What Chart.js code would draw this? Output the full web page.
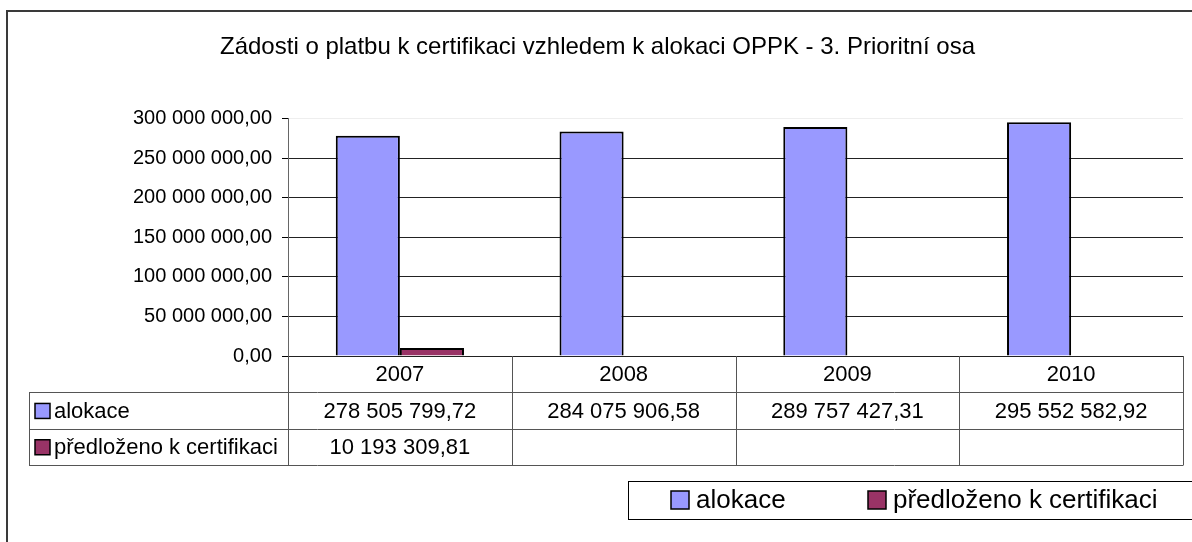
<!DOCTYPE html>
<html>
<head>
<meta charset="utf-8">
<script src="https://cdn.jsdelivr.net/npm/chart.js@4.4.0/dist/chart.umd.min.js"></script>
<style>
  body { margin: 0; background: #fff; }
  #wrap { position: relative; width: 1192px; height: 542px; }
</style>
</head>
<body>
<div id="wrap"><canvas id="myChart"></canvas></div>
<script>
const years = ["2007", "2008", "2009", "2010"];
const alokace = [278505799.72, 284075906.58, 289757427.31, 295552582.92];
const predlozeno = [10193309.81, null, null, null];
const seriesNames = ["alokace", "předloženo k certifikaci"];
const seriesColors = ["#9999FF", "#993366"];
const yTicks = [0, 50000000, 100000000, 150000000, 200000000, 250000000, 300000000];
const chartTitle = "Zádosti o platbu k certifikaci vzhledem k alokaci OPPK - 3. Prioritní osa";

const FONT = "'Liberation Sans', Arial, sans-serif";

// 278505799.72 -> "278 505 799,72"
function czNum(v) {
  const parts = v.toFixed(2).split(".");
  return parts[0].replace(/\B(?=(\d{3})+(?!\d))/g, " ") + "," + parts[1];
}

//----------------frame, data table, legend-------------------

const framePlugin = {
  id: "frame",
  beforeDraw(chart) {
    const c = chart.ctx;
    c.save();
    c.strokeStyle = "#3a3a3a";
    c.lineWidth = 2;
    c.beginPath();
    c.moveTo(7, 542);
    c.lineTo(7, 11);
    c.lineTo(1192, 11);
    c.stroke();
    c.restore();
  }
};

const tablePlugin = {
  id: "dataTable",
  afterDraw(chart) {
    const c = chart.ctx;
    const area = chart.chartArea;
    const n = years.length;
    const colW = (area.right - area.left) / n;
    const rowH = 36.3;
    const top = area.bottom;
    const labelLeft = 29;
    const rows = [alokace, predlozeno];

    c.save();
    c.strokeStyle = "#555";
    c.lineWidth = 1;
    c.beginPath();
    for (let r = 1; r <= 3; r++) {
      const y = Math.round(top + r * rowH) + 0.5;
      c.moveTo(labelLeft, y);
      c.lineTo(area.right, y);
    }
    for (let i = 0; i <= n; i++) {
      const xx = Math.round(area.left + i * colW) + 0.5;
      c.moveTo(xx, top);
      c.lineTo(xx, Math.round(top + 3 * rowH) + 0.5);
    }
    c.moveTo(labelLeft + 0.5, Math.round(top + rowH));
    c.lineTo(labelLeft + 0.5, Math.round(top + 3 * rowH) + 0.5);
    c.stroke();

    c.fillStyle = "#000";
    c.font = "22px " + FONT;
    c.textBaseline = "middle";
    c.textAlign = "center";
    years.forEach((yr, i) => {
      const cx = chart.scales.x.getPixelForValue(i);
      c.fillText(yr, cx, top + rowH / 2 + 1);
      rows.forEach((row, r) => {
        if (row[i] != null) {
          c.fillText(czNum(row[i]), cx, top + rowH * (r + 1.5) + 1);
        }
      });
    });

    // row labels with colour keys
    c.textAlign = "left";
    seriesNames.forEach((name, r) => {
      const cy = top + rowH * (r + 1.5);
      c.fillStyle = seriesColors[r];
      c.fillRect(35, cy - 7, 15, 15);
      c.strokeStyle = "#000";
      c.lineWidth = 1.5;
      c.strokeRect(35, cy - 7, 15, 15);
      c.fillStyle = "#000";
      c.fillText(name, 54, cy + 1);
    });
    c.restore();
  }
};

const legendPlugin = {
  id: "boxLegend",
  afterDraw(chart) {
    const c = chart.ctx;
    c.save();
    c.strokeStyle = "#000";
    c.lineWidth = 1;
    c.strokeRect(628.5, 481.5, 600, 38);
    c.font = "26px " + FONT;
    c.textBaseline = "middle";
    c.textAlign = "left";
    const itemX = [671, 868];
    seriesNames.forEach((name, i) => {
      const cy = 500;
      c.fillStyle = seriesColors[i];
      c.fillRect(itemX[i], cy - 9, 18, 18);
      c.strokeStyle = "#000";
      c.lineWidth = 1.5;
      c.strokeRect(itemX[i], cy - 9, 18, 18);
      c.fillStyle = "#000";
      c.fillText(name, itemX[i] + 25, cy + 1);
    });
    c.restore();
  }
};

const ctx = document.getElementById("myChart");

const data = {
  labels: years,
  datasets: [
    {
      label: seriesNames[0],
      data: alokace,
      backgroundColor: seriesColors[0],
      borderColor: "#000",
      borderWidth: 2,
      barPercentage: 1,
      categoryPercentage: 0.573
    },
    {
      label: seriesNames[1],
      data: predlozeno,
      backgroundColor: seriesColors[1],
      borderColor: "#000",
      borderWidth: 2,
      barPercentage: 1,
      categoryPercentage: 0.573
    }
  ]
};

const config = {
  type: "bar",
  data: data,
  options: {
    responsive: true,
    maintainAspectRatio: false,
    animation: false,
    layout: {
      padding: { left: 12, right: 9, top: 0, bottom: 186 }
    },
    plugins: {
      legend: { display: false },
      tooltip: { enabled: false },
      title: {
        display: true,
        text: chartTitle,
        color: "#000",
        font: { family: FONT, size: 24, weight: "normal" },
        padding: { top: 33, bottom: 57 }
      }
    },
    scales: {
      x: {
        display: false
      },
      y: {
        min: 0,
        max: 300000000,
        afterFit: axis => { axis.width = 276; },
        afterBuildTicks: axis => { axis.ticks = yTicks.map(v => ({ value: v })); },
        border: { display: true, color: "#666", width: 1 },
        grid: {
          color: c => (c.tick && c.tick.value === 300000000 ? "#eeeeee" : "#222"),
          tickColor: "#000",
          tickLength: 6,
          lineWidth: 1
        },
        ticks: {
          color: "#000",
          padding: 10,
          font: { family: FONT, size: 20 },
          callback: v => czNum(v)
        }
      }
    }
  },
  plugins: [framePlugin, tablePlugin, legendPlugin]
};

myChart = new Chart(ctx, config);
</script>
</body>
</html>
